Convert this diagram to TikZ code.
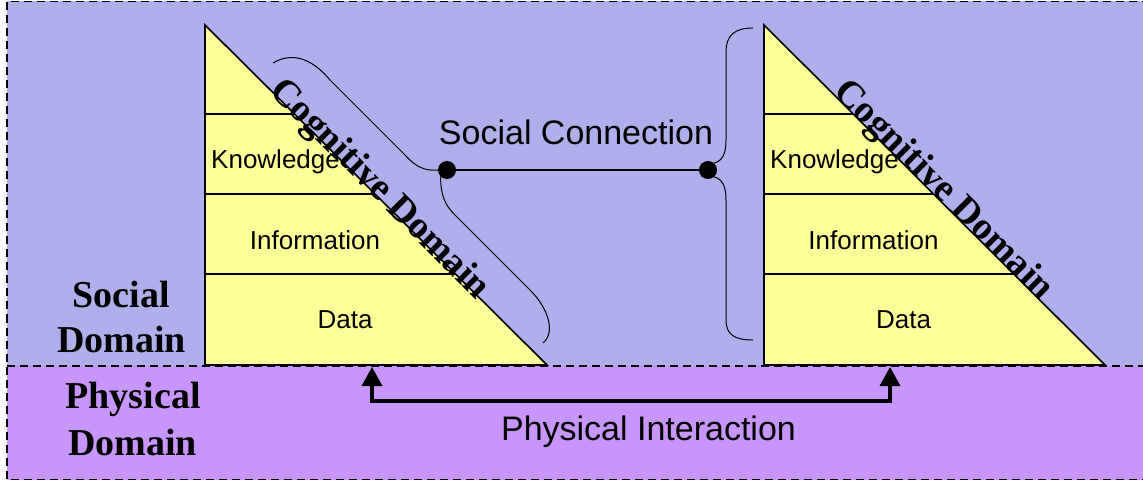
\documentclass[tikz,border=0pt]{standalone}
\usepackage{fontspec}
\setmainfont{Liberation Serif}
\newfontfamily\arialfont{Liberation Sans}
\usetikzlibrary{arrows.meta}
\definecolor{socialbg}{RGB}{175,175,235}
\definecolor{physbg}{RGB}{200,150,250}
\definecolor{layerfill}{RGB}{255,255,153}
\begin{document}
\begin{tikzpicture}[x=1pt,y=-1pt,
  sanslabel/.style={font=\arialfont\fontsize{26}{30}\selectfont, inner sep=0pt},
  biglabel/.style={font=\arialfont\fontsize{34}{40}\selectfont, inner sep=0pt},
  domainlabel/.style={font=\bfseries\fontsize{38}{44}\selectfont, inner sep=0pt},
  dashline/.style={dash pattern=on 8pt off 5pt, line width=1.3pt},
  tri/.style={fill=layerfill, draw=black, line width=1.6pt, line join=miter},
  layerline/.style={line width=1.3pt},
  dot/.style={circle, fill=black, inner sep=0pt, minimum size=18pt},
  bracepath/.style={line width=1pt},
  physarrow/.style={line width=3.5pt, line join=miter, {Triangle[length=19pt,width=20pt]}-{Triangle[length=19pt,width=20pt]}},
]
\useasboundingbox (0,0) rectangle (1143,481);
% backgrounds
\fill[socialbg] (7,1.5) rectangle (1143,366);
\fill[physbg] (7,366) rectangle (1143,479.5);
\draw[dashline] (7,366) -- (1143,366);
\draw[dashline] (1150,1.5) -- (7,1.5) -- (7,479.5) -- (1150,479.5);

% left pyramid
\draw[tri] (205,25) -- (205,365) -- (547,365) -- cycle;
\draw[layerline] (205,114) -- (294.5,114);
\draw[layerline] (205,194) -- (375,194);
\draw[layerline] (205,274) -- (455.5,274);
% right pyramid
\draw[tri] (764,25) -- (764,365) -- (1105,365) -- cycle;
\draw[layerline] (764,114) -- (853,114);
\draw[layerline] (764,194) -- (933.5,194);
\draw[layerline] (764,274) -- (1013.7,274);

% layer labels
\node[sanslabel, anchor=base west] (k1) at (211,169) {Knowledge};
\node[sanslabel, anchor=base] (i1) at (315,250) {Information};
\node[sanslabel, anchor=base] (da1) at (345,328) {Data};
\node[sanslabel, anchor=base west] (k2) at (770,169) {Knowledge};
\node[sanslabel, anchor=base] (i2) at (873.5,250) {Information};
\node[sanslabel, anchor=base] (da2) at (903.5,328) {Data};

% cognitive domain labels
\node[domainlabel, rotate=-45] (cg1) at (379,190) {Cognitive Domain};
\node[domainlabel, rotate=-45] (cg2) at (943,191) {Cognitive Domain};

% domain labels
\node[domainlabel, anchor=base] (sd1) at (121,307) {Social};
\node[domainlabel, anchor=base] (sd2) at (121.5,352) {Domain};
\node[domainlabel, anchor=base] (pd1) at (133,408) {Physical};
\node[domainlabel, anchor=base] (pd2) at (132.5,455) {Domain};

% social connection
\node[dot] (c1) at (447,170) {};
\node[dot] (c2) at (708,170) {};
\draw[line width=1.1pt] (c1) -- (c2);
\node[biglabel, anchor=base] (sc) at (576,145) {Social Connection};

% left brace (diagonal)
\draw[bracepath] (273,63) .. controls (295,50) and (315,62) .. (330,80)
  -- (405,155) .. controls (416,167) and (424,171) .. (c1.west);
\draw[bracepath] (c1.south west) .. controls (441,195) and (444,204) .. (455,215)
  -- (530,290) .. controls (548,308) and (556,332) .. (543,343);
% right brace (vertical)
\draw[bracepath] (753,28) .. controls (735,28) and (726,35) .. (726,52)
  -- (726,140) .. controls (726,158) and (720,166) .. (c2.north west);
\draw[bracepath] (c2.south west) .. controls (720,174) and (726,182) .. (726,200)
  -- (726,320) .. controls (726,335) and (735,340) .. (753,340);

% physical interaction
\coordinate (b1) at (372,367);
\coordinate (b2) at (890,367);
\coordinate (h1) at (372,401);
\coordinate (h2) at (890,401);
\draw[physarrow] (b1) -- (h1) -- (h2) -- (b2);
\node[biglabel, anchor=base] (pi) at (648.5,440) {Physical Interaction};
\end{tikzpicture}
\end{document}
